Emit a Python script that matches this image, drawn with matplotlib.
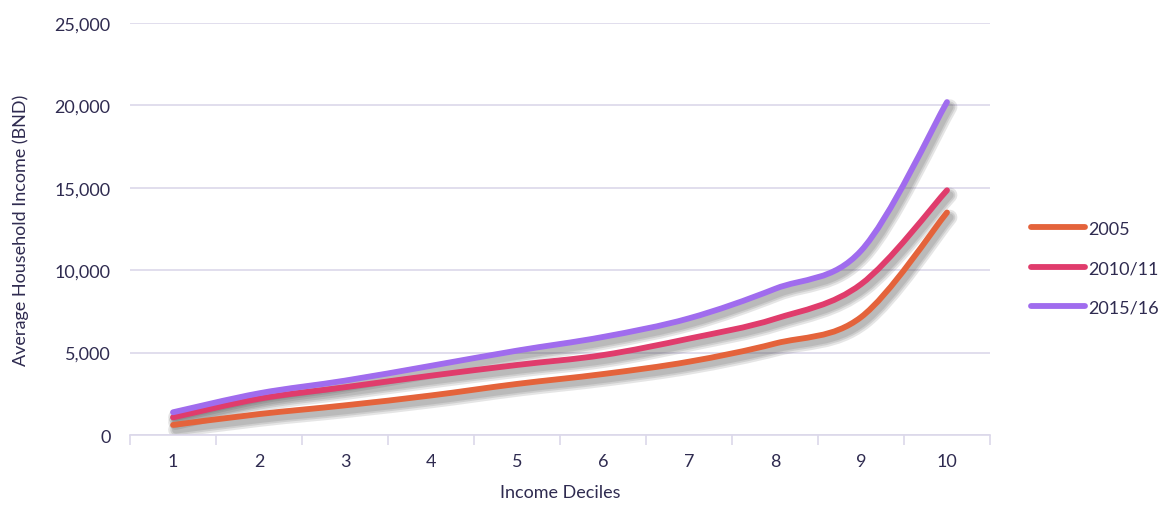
import numpy as np
import matplotlib
matplotlib.use("Agg")
import matplotlib.pyplot as plt
import matplotlib.patheffects as pe
from matplotlib.path import Path
from matplotlib.patches import PathPatch
from matplotlib.lines import Line2D
from matplotlib.ticker import FuncFormatter, FixedLocator

# data
deciles = [1, 2, 3, 4, 5, 6, 7, 8, 9, 10]
inc_2005 = [610, 1270, 1800, 2400, 3100, 3700, 4450, 5550, 7150, 13500]
inc_2010 = [1070, 2200, 2900, 3600, 4250, 4850, 5850, 7050, 9150, 14850]
inc_2015 = [1380, 2530, 3300, 4200, 5120, 5950, 7080, 8870, 11180, 20200]
series_names = ["2005", "2010/11", "2015/16"]
series_colors = ["#E4633B", "#E03C6C", "#A06CEE"]

text_col = "#2F2B50"
grid_col = "#DCD8EA"
fs = 13

plt.rcParams['font.family'] = ['Lato', 'DejaVu Sans']

fig = plt.figure(figsize=(11.64, 5.06), dpi=100)
ax = fig.add_axes([0.1117, 0.1383, 0.7388, 0.8143])


def smooth_path(xs, ys):
    # cardinal-spline style bezier through the data points (like Excel smoothing)
    xs = np.asarray(xs, float)
    ys = np.asarray(ys, float)
    verts = [(xs[0], ys[0])]
    codes = [Path.MOVETO]
    n = len(xs)
    for i in range(n - 1):
        p0 = i - 1 if i > 0 else i
        p3 = i + 2 if i + 2 < n else i + 1
        c1 = (xs[i] + (xs[i + 1] - xs[p0]) / 6, ys[i] + (ys[i + 1] - ys[p0]) / 6)
        c2 = (xs[i + 1] - (xs[p3] - xs[i]) / 6, ys[i + 1] - (ys[p3] - ys[i]) / 6)
        verts += [c1, c2, (xs[i + 1], ys[i + 1])]
        codes += [Path.CURVE4] * 3
    return Path(verts, codes)


# soft drop shadow: a few stacked grey strokes of growing width
shadow = [pe.SimpleLineShadow(offset=(2, -3.5), shadow_color="#3a3a3a", alpha=0.13, linewidth=w)
          for w in (11, 8, 5.5)]

for vals, name, col in zip([inc_2005, inc_2010, inc_2015], series_names, series_colors):
    path = smooth_path(deciles, vals)
    # shadows go underneath all the lines
    sh = PathPatch(path, facecolor="none", edgecolor=col, lw=4.2,
                   capstyle="round", joinstyle="round", zorder=2)
    sh.set_path_effects(shadow)
    ax.add_patch(sh)
    ax.add_patch(PathPatch(path, facecolor="none", edgecolor=col, lw=4.2,
                           capstyle="round", joinstyle="round", zorder=3))

ax.set_xlim(0.5, 10.5)
ax.set_ylim(0, 25000)
ax.set_yticks(np.arange(0, 25001, 5000))
ax.yaxis.set_major_formatter(FuncFormatter(lambda v, p: f"{int(v):,}"))
ax.set_xticks(deciles)
ax.set_xticklabels([str(d) for d in deciles])
ax.xaxis.set_minor_locator(FixedLocator(np.arange(0.5, 10.6, 1)))

ax.grid(axis="y", color=grid_col, lw=1.2)
ax.set_axisbelow(True)
for s in ["top", "right", "left"]:
    ax.spines[s].set_visible(False)
ax.spines["bottom"].set_color(grid_col)
ax.spines["bottom"].set_linewidth(1.2)

ax.tick_params(axis="y", length=0, pad=14, labelsize=fs, labelcolor=text_col)
ax.tick_params(axis="x", which="major", length=0, pad=13, labelsize=fs, labelcolor=text_col)
ax.tick_params(axis="x", which="minor", length=7, width=1.2, color=grid_col)

ax.set_xlabel("Income Deciles", fontsize=fs, color=text_col, labelpad=11)
ax.set_ylabel("Average Household Income (BND)", fontsize=fs, color=text_col, labelpad=18)

handles = [Line2D([0], [0], color=c, lw=4.2, solid_capstyle="round") for c in series_colors]
leg = fig.legend(handles, series_names, loc="center left", bbox_to_anchor=(0.886, 0.468),
                 frameon=False, fontsize=fs, labelcolor=text_col, handlelength=3.0,
                 handletextpad=0.15, labelspacing=1.3, borderpad=0, borderaxespad=0)

fig.savefig("out.png", dpi=100)
